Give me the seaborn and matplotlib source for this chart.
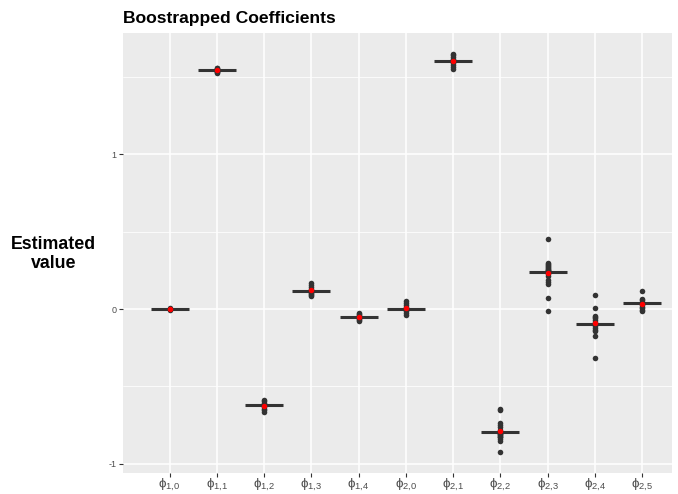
import matplotlib
matplotlib.use("Agg")
import matplotlib.pyplot as plt
from matplotlib.ticker import FixedLocator
import numpy as np
import pandas as pd
import seaborn as sns

# Coefficient names and their tick labels
coef_names = ["phi10", "phi11", "phi12", "phi13", "phi14",
              "phi20", "phi21", "phi22", "phi23", "phi24", "phi25"]
tick_labels = [r"$\phi_{1{,}0}$", r"$\phi_{1{,}1}$", r"$\phi_{1{,}2}$", r"$\phi_{1{,}3}$",
               r"$\phi_{1{,}4}$", r"$\phi_{2{,}0}$", r"$\phi_{2{,}1}$", r"$\phi_{2{,}2}$",
               r"$\phi_{2{,}3}$", r"$\phi_{2{,}4}$", r"$\phi_{2{,}5}$"]

# Full-sample point estimates (horizontal bars)
point_estimate = [0.000, 1.543, -0.620, 0.118, -0.050, -0.002,
                  1.605, -0.797, 0.239, -0.095, 0.037]

# Bootstrap replicates for each coefficient
boot_phi10 = [-0.004, -0.003, -0.002, -0.001, 0.000, 0.000, 0.001, 0.002, 0.003, 0.004]
boot_phi11 = [1.524, 1.530, 1.535, 1.538, 1.541, 1.543, 1.545, 1.548, 1.552, 1.556, 1.560]
boot_phi12 = [-0.585, -0.595, -0.605, -0.612, -0.618, -0.622, -0.628, -0.635,
              -0.645, -0.655, -0.663]
boot_phi13 = [0.170, 0.158, 0.145, 0.130, 0.122, 0.116, 0.110, 0.103, 0.095, 0.088, 0.082]
boot_phi14 = [-0.028, -0.035, -0.041, -0.046, -0.050, -0.053, -0.057, -0.062, -0.068, -0.075]
boot_phi20 = [0.052, 0.040, 0.028, 0.015, 0.005, -0.002, -0.008, -0.015, -0.024, -0.036]
boot_phi21 = [1.650, 1.640, 1.628, 1.618, 1.610, 1.604, 1.598, 1.590, 1.580, 1.566, 1.551]
boot_phi22 = [-0.646, -0.655, -0.737, -0.750, -0.765, -0.780, -0.790, -0.798, -0.800,
              -0.805, -0.810, -0.812, -0.820, -0.825, -0.830, -0.840, -0.850, -0.926]
boot_phi23 = [0.455, 0.295, 0.290, 0.285, 0.280, 0.270, 0.262, 0.258, 0.255, 0.250,
              0.248, 0.245, 0.242, 0.238, 0.232, 0.225, 0.215, 0.190, 0.175, 0.160,
              0.069, -0.013]
boot_phi24 = [0.092, 0.006, -0.045, -0.050, -0.055, -0.070, -0.085, -0.095, -0.100,
              -0.110, -0.125, -0.135, -0.140, -0.172, -0.317]
boot_phi25 = [0.114, 0.062, 0.055, 0.048, 0.042, 0.037, 0.032, 0.025, 0.015, 0.005,
              -0.005, -0.015]

boot_lists = [boot_phi10, boot_phi11, boot_phi12, boot_phi13, boot_phi14, boot_phi20,
              boot_phi21, boot_phi22, boot_phi23, boot_phi24, boot_phi25]

boot_df = pd.DataFrame(
    [(name, v) for name, vals in zip(coef_names, boot_lists) for v in vals],
    columns=["coef", "value"],
)
est_df = pd.DataFrame({"coef": coef_names, "value": point_estimate})

sns.set_style("darkgrid")
plt.rcParams["font.family"] = ["Liberation Sans", "DejaVu Sans"]
plt.rcParams["mathtext.default"] = "regular"
plt.rcParams["axes.unicode_minus"] = False

W, H = 678, 494
fig = plt.figure(figsize=(W / 100, H / 100), dpi=100)
ax = fig.add_axes([123.3 / W, 1 - 473 / H, (672 - 123.3) / W, (473 - 33) / H])

dark = "#333333"

# bootstrap replicates
sns.stripplot(data=boot_df, x="coef", y="value", order=coef_names, jitter=False,
              color=dark, size=4.0, linewidth=0, ax=ax, zorder=3)

# point estimate bars
sns.pointplot(data=est_df, x="coef", y="value", order=coef_names, errorbar=None,
              color=dark, markers="_", linestyle="none", markersize=27,
              markeredgewidth=2.2, ax=ax, zorder=4)

# bootstrap means
sns.pointplot(data=boot_df, x="coef", y="value", order=coef_names, estimator="mean",
              errorbar=None, color="red", markers="o", linestyle="none",
              markersize=3.9, markeredgewidth=0, ax=ax, zorder=5)

ax.set_xlim(-0.98, 10.63)
ax.set_ylim(-1.060, 1.784)
ax.set_xticks(range(len(coef_names)))
ax.set_xticklabels(tick_labels)
ax.set_yticks([-1, 0, 1])
ax.set_yticklabels(["-1", "0", "1"])
ax.yaxis.set_minor_locator(FixedLocator([-0.5, 0.5, 1.5]))

ax.set_facecolor("#EBEBEB")
ax.grid(which="major", color="white", linewidth=1.1)
ax.grid(which="minor", axis="y", color="white", linewidth=0.55)
ax.set_axisbelow(True)
for s in ax.spines.values():
    s.set_visible(False)

ax.tick_params(axis="both", which="major", length=2.7, width=0.8, color=dark,
               labelcolor="#4D4D4D", bottom=True, left=True)
ax.tick_params(axis="y", labelsize=6.5, pad=2)
ax.tick_params(axis="x", labelsize=9.6, pad=0.4)
ax.tick_params(which="minor", length=0)
ax.set_xlabel("")
ax.set_ylabel("")

fig.text(123.3 / W, 1 - 22.7 / H, "Boostrapped Coefficients", fontsize=12.6,
         fontweight="bold", ha="left", va="baseline", color="black")
fig.text(53.8 / W, 1 - 254 / H, "Estimated\nvalue", fontsize=12.8, fontweight="bold",
         ha="center", va="center", multialignment="center", color="black",
         linespacing=1.08)

fig.savefig("out.png", dpi=100)
